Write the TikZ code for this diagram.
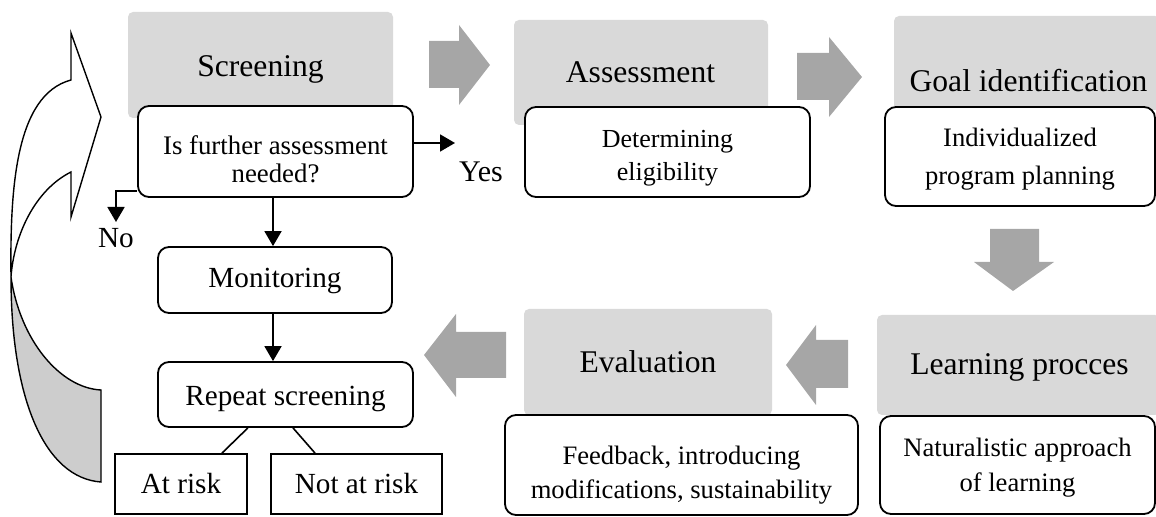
\documentclass[tikz,border=0pt]{standalone}
\usepackage{fontspec}
\setmainfont{Liberation Serif}
\usepackage{tikz}
\usetikzlibrary{calc,shapes,arrows.meta}
\definecolor{boxgray}{HTML}{D9D9D9}
\definecolor{arrowgray}{HTML}{A6A6A6}
\definecolor{backgray}{HTML}{CDCDCD}

\begin{document}
\begin{tikzpicture}[x=0.5pt,y=-0.5pt,
    stagebox/.style={fill=boxgray,rounded corners=2.5pt,inner sep=0pt},
    stagetxt/.style={anchor=base,inner sep=0pt,font=\fontsize{15.8}{19}\selectfont},
    infobox/.style={draw,fill=white,line width=0.9pt,rounded corners=5.5pt,inner sep=0pt},
    infotxt/.style={align=center,inner sep=0pt},
    riskbox/.style={draw,fill=white,line width=0.9pt,inner sep=0pt,font=\fontsize{14.6}{17}\selectfont},
    fatarrow/.style={fill=arrowgray},
    flow/.style={line width=0.9pt,-{Triangle[length=7.5pt,width=8.5pt]}}]
    \useasboundingbox (0,0) rectangle (1156,517);

    % curved arrow back to screening
    \draw[line width=0.7pt,fill=white] (71,80) -- (71,33) -- (101,117) -- (71,217) -- (71,172)
        .. controls (35,190) and (14,235) .. (11,277)
        .. controls (10,190) and (15,95) .. (71,80) -- cycle;
    \draw[line width=0.7pt,fill=backgray] (11,277) .. controls (20,340) and (60,388) .. (101,390)
        -- (101,482) .. controls (45,478) and (11,400) .. (11,277) -- cycle;

    % stages
    \node[stagebox,minimum width=132.5pt,minimum height=53pt] (scr) at (260.5,65) {};
    \node[stagebox,minimum width=127pt,minimum height=52.5pt] (asm) at (641,72.5) {};
    \node[stagebox,minimum width=133pt,minimum height=47pt] (goal) at (1027,63) {};
    \node[stagebox,minimum width=141.5pt,minimum height=50pt] (learn) at (1018.5,365) {};
    \node[stagebox,minimum width=124pt,minimum height=53pt] (eval) at (648,362) {};
    \node[stagetxt] (scrt) at (260.5,77) {Screening};
    \node[stagetxt] (asmt) at (640.5,83) {Assessment};
    \node[stagetxt] (goalt) at (1028.5,92) {Goal identification};
    \node[stagetxt] (learnt) at (1019.5,375) {Learning procces};
    \node[stagetxt] (evalt) at (648,373) {Evaluation};

    % big arrows
    \fill[fatarrow] (429,41) -- (459,41) -- (459,25) -- (490,65) -- (459,105) -- (459,88) -- (429,88) -- cycle;
    \fill[fatarrow] (797,53) -- (829,53) -- (829,37) -- (862,77) -- (829,117) -- (829,100) -- (797,100) -- cycle;
    \fill[fatarrow] (990,229) -- (1039,229) -- (1039,262) -- (1054,262) -- (1013,291) -- (974,262) -- (990,262) -- cycle;
    \fill[fatarrow] (848,340) -- (816,340) -- (816,325) -- (786,365) -- (816,405) -- (816,388) -- (848,388) -- cycle;
    \fill[fatarrow] (506,332) -- (456,332) -- (456,314) -- (424,355) -- (456,397) -- (456,378) -- (506,378) -- cycle;

    % detail boxes
    \node[infobox,minimum width=137.5pt,minimum height=45.5pt] (q) at (275.5,151.5) {};
    \node[infobox,minimum width=142.5pt,minimum height=45pt] (det) at (667.5,152) {};
    \node[infobox,minimum width=135pt,minimum height=49.5pt] (ind) at (1020,156.5) {};
    \node[infobox,minimum width=117pt,minimum height=33pt] (mon) at (275,280) {};
    \node[infobox,minimum width=127.5pt,minimum height=32.5pt] (rep) at (285.5,394.5) {};
    \node[riskbox,minimum width=66pt,minimum height=30pt] (atr) at (181,484) {At risk};
    \node[riskbox,minimum width=85.5pt,minimum height=30pt] (natr) at (356.5,484) {Not at risk};
    \node[infobox,minimum width=176.5pt,minimum height=50pt] (fb) at (681.5,465) {};
    \node[infobox,minimum width=137.5pt,minimum height=49pt] (nat) at (1017.5,465) {};

    \node[infotxt,font=\fontsize{13.4}{14}\selectfont] (qt) at (275.5,159) {Is further assessment\\needed?};
    \node[infotxt,font=\fontsize{13}{16.5}\selectfont] (dett) at (667.5,158.5) {Determining\\eligibility};
    \node[infotxt,font=\fontsize{13.3}{19}\selectfont] (indt) at (1020,159.5) {Individualized\\program planning};
    \node[infotxt,font=\fontsize{14.6}{17}\selectfont] (mont) at (275,281) {Monitoring};
    \node[infotxt,font=\fontsize{14.6}{17}\selectfont] (rept) at (285.5,398.5) {Repeat screening};
    \node[infotxt,font=\fontsize{13.3}{17}\selectfont] (fbt) at (681.5,475) {Feedback, introducing\\modifications, sustainability};
    \node[infotxt,font=\fontsize{13.3}{17.5}\selectfont] (natt) at (1017.5,468) {Naturalistic approach\\of learning};

    % decisions
    \coordinate (yesend) at (455,143);
    \coordinate (noend) at (116,222);
    \draw[flow] (q.east |- yesend) -- (yesend);
    \draw[flow] (q.west |- 0,191) -| (noend);
    \draw[flow] (q.south -| 273,0) -- (mon.north -| 273,0);
    \draw[flow] (mon.south -| 273,0) -- (rep.north -| 273,0);
    \draw[line width=0.8pt] (rep.south -| atr.east) -- (atr.north -| 222,0);
    \draw[line width=0.8pt] (rep.south -| 293,0) -- (natr.north -| 315,0);
    \node[anchor=base,font=\fontsize{15}{17}\selectfont] (yes) at (481,182) {Yes};
    \node[anchor=base,font=\fontsize{14.6}{17}\selectfont] (no) at (116,248) {No};
\end{tikzpicture}
\end{document}
